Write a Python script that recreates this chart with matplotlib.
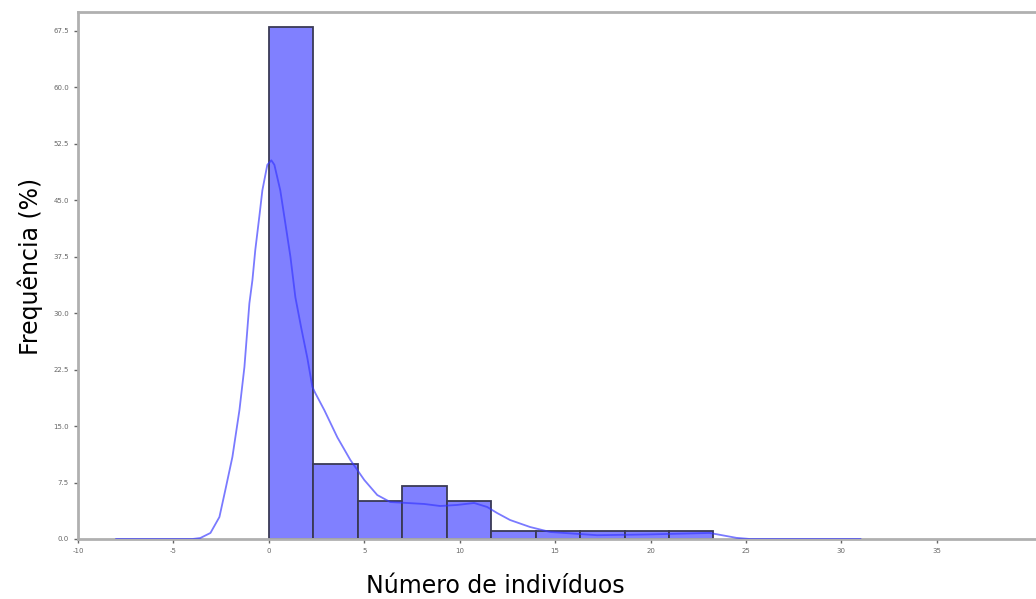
import matplotlib.pyplot as plt
import numpy as np

# histogram bins (Número de indivíduos) and frequencies (%)
bin_edges = [0.0, 2.33, 4.66, 6.99, 9.32, 11.65, 13.98, 16.31, 18.64, 20.97, 23.3]
freq = [68.0, 10.0, 5.0, 7.0, 5.0, 1.0, 1.0, 1.0, 1.0, 1.0]

# density curve
curve_x = [-8.0, -4.0, -3.59, -3.06, -2.59, -2.28, -1.91, -1.54, -1.28, -1.02,
           -0.86, -0.71, -0.50, -0.34, -0.08, 0.13, 0.29, 0.60, 0.86, 1.13,
           1.39, 1.70, 2.02, 2.28, 2.43, 2.91, 3.59, 4.27, 5.00, 5.68, 6.36,
           7.25, 8.14, 8.98, 9.87, 10.76, 11.44, 11.96, 12.64, 13.69, 14.74,
           17.2, 19.8, 23.1, 24.5, 25.2, 31.0]
curve_y = [0.0, 0.0, 0.13, 0.80, 2.92, 6.51, 10.89, 17.13, 22.84, 31.3,
           34.4, 38.4, 42.8, 46.3, 49.7, 50.3, 49.7, 46.3, 42.0, 37.5,
           32.1, 28.0, 24.0, 20.2, 19.4, 17.1, 13.5, 10.5, 7.84, 5.84, 4.91,
           4.78, 4.65, 4.38, 4.52, 4.78, 4.25, 3.45, 2.52, 1.59, 0.93,
           0.5, 0.6, 0.8, 0.15, 0.0, 0.0]

x_ticks = [-10, -5, 0, 5, 10, 15, 20, 25, 30, 35]
y_ticks = [0.0, 7.5, 15.0, 22.5, 30.0, 37.5, 45.0, 52.5, 60.0, 67.5]

fig = plt.figure(figsize=(10.36, 5.99), dpi=100)
ax = fig.add_axes([0.0753, 0.1002, 0.9247, 0.8798])

widths = np.diff(bin_edges)
ax.bar(bin_edges[:-1], freq, width=widths, align="edge",
       color="#8080ff", edgecolor="#3a3a55", linewidth=1.3, zorder=2)
ax.plot(curve_x, curve_y, color="#3333ff", alpha=0.65, linewidth=1.3,
        solid_joinstyle="round", zorder=3)

ax.set_xlim(-10, 40.2)
ax.set_ylim(0, 70)
ax.set_xticks(x_ticks)
ax.set_xticklabels([str(t) for t in x_ticks])
ax.set_yticks(y_ticks)
ax.set_yticklabels([f"{t:.1f}" for t in y_ticks])
ax.tick_params(labelsize=5, colors="#666666", length=3, width=1)

for side in ["left", "top", "bottom"]:
    ax.spines[side].set_color("#b0b0b0")
    ax.spines[side].set_linewidth(2)
ax.spines["right"].set_visible(False)

fig.text(0.029, 0.555, "Frequência (%)", rotation=90, ha="center",
         va="center", fontsize=17)
fig.text(0.478, 0.022, "Número de indivíduos", ha="center", va="center",
         fontsize=17)

fig.savefig("out.png", dpi=100)
